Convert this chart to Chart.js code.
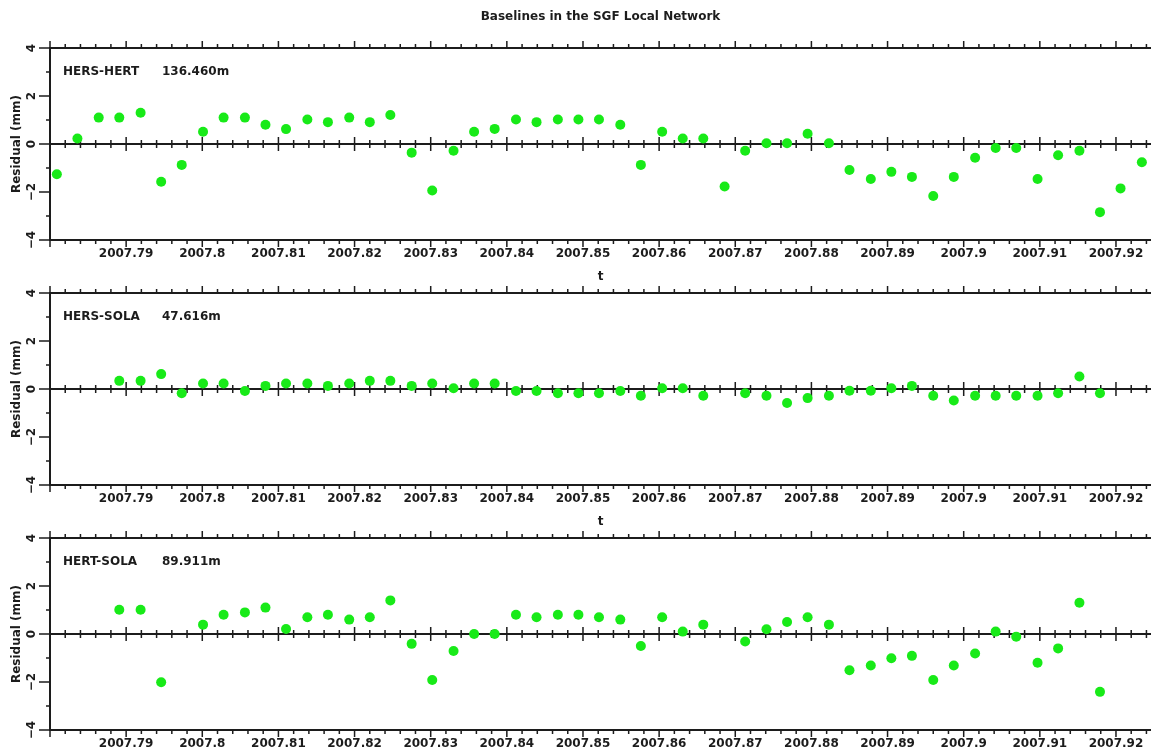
<!DOCTYPE html>
<html>
<head>
<meta charset="utf-8">
<title>Baselines in the SGF Local Network</title>
<script src="https://cdn.jsdelivr.net/npm/chart.js@4.4.0/dist/chart.umd.min.js"></script>
<style>
  html, body { margin: 0; padding: 0; background: #fff; overflow: hidden; }
  #wrap { position: relative; width: 1151px; height: 753px; overflow: hidden; }
  canvas { position: absolute; left: 0; }
</style>
</head>
<body>
<div id="wrap">
  <canvas id="panel1" width="1151" height="290" style="top:0px"></canvas>
  <canvas id="panel2" width="1151" height="290" style="top:245px"></canvas>
  <canvas id="panel3" width="1151" height="290" style="top:490px"></canvas>
</div>
<script>
// daily solution epochs (decimal year)
const times = [
  2007.7809, 2007.7836, 2007.7864, 2007.7891, 2007.7919, 2007.7946, 2007.7973, 2007.8001,
  2007.8028, 2007.8056, 2007.8083, 2007.8110, 2007.8138, 2007.8165, 2007.8193, 2007.8220,
  2007.8247, 2007.8275, 2007.8302, 2007.8330, 2007.8357, 2007.8384, 2007.8412, 2007.8439,
  2007.8467, 2007.8494, 2007.8521, 2007.8549, 2007.8576, 2007.8604, 2007.8631, 2007.8658,
  2007.8686, 2007.8713, 2007.8741, 2007.8768, 2007.8795, 2007.8823, 2007.8850, 2007.8878,
  2007.8905, 2007.8932, 2007.8960, 2007.8987, 2007.9015, 2007.9042, 2007.9069, 2007.9097,
  2007.9124, 2007.9152, 2007.9179, 2007.9206, 2007.9234
];

// residuals in mm, null = no solution that day
const hersHert = [
  -1.26, 0.23, 1.10, 1.10, 1.30, -1.57, -0.87, 0.51, 1.10, 1.10, 0.80, 0.62, 1.02, 0.91, 1.10, 0.91,
  1.21, -0.36, -1.94, -0.28, 0.51, 0.63, 1.02, 0.91, 1.02, 1.02, 1.02, 0.80, -0.87, 0.51, 0.23, 0.23,
  -1.77, -0.28, 0.03, 0.03, 0.43, 0.03, -1.08, -1.46, -1.16, -1.37, -2.17, -1.37, -0.57, -0.17, -0.17, -1.46,
  -0.47, -0.28, -2.84, -1.85, -0.76
];
const hersSola = [
  null, null, null, 0.34, 0.34, 0.62, -0.18, 0.23, 0.23, -0.08, 0.13, 0.23, 0.23, 0.13, 0.23, 0.34,
  0.34, 0.13, 0.23, 0.03, 0.23, 0.23, -0.08, -0.08, -0.18, -0.18, -0.18, -0.08, -0.28, 0.03, 0.03, -0.28,
  null, -0.18, -0.28, -0.58, -0.38, -0.28, -0.07, -0.07, 0.03, 0.13, -0.28, -0.48, -0.28, -0.28, -0.28, -0.28,
  -0.18, 0.52, -0.18, null, null
];
const hertSola = [
  null, null, null, 1.01, 1.01, -2.01, null, 0.39, 0.80, 0.90, 1.10, 0.21, 0.70, 0.80, 0.60, 0.70,
  1.40, -0.41, -1.92, -0.71, 0.00, 0.00, 0.80, 0.70, 0.80, 0.80, 0.70, 0.60, -0.50, 0.70, 0.10, 0.39,
  null, -0.31, 0.20, 0.50, 0.70, 0.39, -1.51, -1.31, -1.01, -0.91, -1.92, -1.31, -0.81, 0.10, -0.11, -1.20,
  -0.60, 1.30, -2.41, null, null
];

const baselineNames = ['HERS-HERT', 'HERS-SOLA', 'HERT-SOLA'];
const baselineLengths = ['136.460m', '47.616m', '89.911m'];
const chartTitle = 'Baselines in the SGF Local Network';

const xMin = 2007.78, xMax = 2007.9246;
const yMin = -4, yMax = 4;

const ink = '#1c1c1c';
const green = 'rgb(24, 234, 24)';

Chart.defaults.font.family = '"DejaVu Sans", sans-serif';
Chart.defaults.font.size = 12;
Chart.defaults.font.weight = 'bold';
Chart.defaults.color = ink;

// box, zero line, major/minor ticks and the baseline label
const frame = {
  id: 'frame',
  beforeDatasetsDraw(chart, args, opts) {
    const { ctx, chartArea: a, scales } = chart;
    const x = scales.x, y = scales.y;
    const y0 = y.getPixelForValue(0);
    ctx.save();
    ctx.strokeStyle = ink;
    ctx.lineWidth = 2;
    ctx.beginPath();
    ctx.moveTo(a.left, a.top); ctx.lineTo(a.right, a.top);
    ctx.moveTo(a.left, a.bottom); ctx.lineTo(a.right, a.bottom);
    ctx.moveTo(a.left, y0); ctx.lineTo(a.right, y0);
    ctx.moveTo(a.left, a.top - 1); ctx.lineTo(a.left, a.bottom + 1);
    ctx.stroke();

    ctx.lineWidth = 1.5;
    ctx.beginPath();
    for (let k = 0; ; k++) {
      const v = xMin + k * 0.002;
      if (v > xMax) break;
      const px = x.getPixelForValue(v);
      const len = k % 5 === 0 ? 7 : 4;
      ctx.moveTo(px, a.top); ctx.lineTo(px, a.top - len);
      ctx.moveTo(px, a.bottom); ctx.lineTo(px, a.bottom + len);
      ctx.moveTo(px, y0 - len); ctx.lineTo(px, y0 + len);
    }
    for (let v = yMin; v <= yMax; v++) {
      const py = y.getPixelForValue(v);
      const len = v % 2 === 0 ? 11 : 4;
      ctx.moveTo(a.left, py); ctx.lineTo(a.left - len, py);
    }
    ctx.stroke();

    ctx.fillStyle = ink;
    ctx.font = 'bold 12px "DejaVu Sans"';
    ctx.textBaseline = 'middle';
    const ly = y.getPixelForValue(3);
    ctx.fillText(opts.name, a.left + 13, ly);
    ctx.fillText(opts.length, a.left + 112, ly);
    ctx.restore();
  }
};

function makePanel(id, values, idx, withTitle) {
  const points = times.map((t, i) => ({ x: t, y: values[i] })).filter(p => p.y !== null);
  return new Chart(document.getElementById(id), {
    type: 'scatter',
    data: {
      datasets: [{
        data: points,
        backgroundColor: green,
        borderWidth: 0,
        pointRadius: 5,
        pointHoverRadius: 5
      }]
    },
    options: {
      responsive: false,
      animation: false,
      devicePixelRatio: 1,
      layout: { autoPadding: false, padding: { top: withTitle ? 0 : 48, right: 0, bottom: 0, left: 0 } },
      plugins: {
        legend: { display: false },
        tooltip: { enabled: false },
        title: {
          display: withTitle,
          text: chartTitle,
          fullSize: false,
          color: ink,
          font: { size: 12, weight: 'bold' },
          padding: { top: 10, bottom: 23.6 }
        },
        frame: { name: baselineNames[idx], length: baselineLengths[idx] }
      },
      scales: {
        x: {
          type: 'linear',
          min: xMin,
          max: xMax,
          afterFit: s => { s.height = 50 },
          grid: { display: false, drawTicks: false },
          border: { display: false },
          ticks: {
            stepSize: 0.01,
            autoSkip: false,
            includeBounds: false,
            maxRotation: 0,
            padding: 7,
            color: ink,
            callback: v => Math.abs(v - xMin) < 1e-6 ? '' : String(Math.round(v * 100) / 100)
          },
          title: { display: true, text: 't', color: ink, padding: { top: 0, bottom: 6 } }
        },
        y: {
          min: yMin,
          max: yMax,
          afterFit: s => { s.width = 50 },
          grid: { display: false, drawTicks: false },
          border: { display: false },
          ticks: {
            stepSize: 2,
            minRotation: 90,
            maxRotation: 90,
            crossAlign: 'center',
            padding: 9,
            color: ink,
            callback: v => v < 0 ? '\u2212' + (-v) : String(v)
          },
          title: { display: true, text: 'Residual (mm)', color: ink, padding: { top: 10, bottom: 0 } }
        }
      }
    },
    plugins: [frame]
  });
}

makePanel('panel1', hersHert, 0, true);
makePanel('panel2', hersSola, 1, false);
makePanel('panel3', hertSola, 2, false);
</script>
</body>
</html>
